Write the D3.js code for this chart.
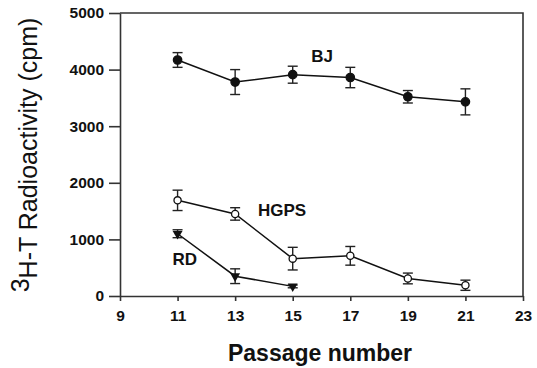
<!DOCTYPE html>
<html>
<head>
<meta charset="utf-8">
<script src="https://cdn.jsdelivr.net/npm/d3@7"></script>
<style>
  body { margin: 0; background: #fff; }
  svg { font-family: Arial, "Liberation Sans", sans-serif; }
</style>
</head>
<body>
<svg id="chart" width="537" height="368"></svg>
<script>
// passage numbers per series
const passagesBJ = [11, 13, 15, 17, 19, 21];
const passagesHGPS = [11, 13, 15, 17, 19, 21];
const passagesRD = [11, 13, 15];

// means and error (sd)
const valuesBJ = [4170, 3780, 3910, 3860, 3520, 3430];
const errorsBJ = [130, 220, 150, 180, 110, 230];
const valuesHGPS = [1690, 1450, 660, 710, 310, 190];
const errorsHGPS = [180, 110, 200, 165, 95, 90];
const valuesRD = [1100, 350, 170];
const errorsRD = [70, 130, 25];

const xTicks = [9, 11, 13, 15, 17, 19, 21, 23];
const yTicks = [0, 1000, 2000, 3000, 4000, 5000];

const margin = { left: 120, right: 14, top: 13, bottom: 72 };
const width = 537, height = 368;
const innerWidth = width - margin.left - margin.right;
const innerHeight = height - margin.top - margin.bottom;

const svg = d3.select('#chart');

const x = d3.scaleLinear().domain([9, 23]).range([0, innerWidth]);
const y = d3.scaleLinear().domain([0, 5000]).range([innerHeight, 0]);

const plot = svg.append('g')
    .attr('transform', `translate(${margin.left}, ${margin.top})`);

// box top + right
plot.append('path')
    .attr('d', `M0,0H${innerWidth}V${innerHeight}`)
    .attr('fill', 'none')
    .attr('stroke', '#333')
    .attr('stroke-width', 1.6);

const xAxis = d3.axisBottom(x).tickValues(xTicks).tickFormat(d3.format('d'))
    .tickSize(5).tickPadding(9).tickSizeOuter(0);
const yAxis = d3.axisLeft(y).tickValues(yTicks).tickFormat(d3.format('d'))
    .tickSize(11).tickPadding(5).tickSizeOuter(0);

const gx = plot.append('g')
    .attr('transform', `translate(0, ${innerHeight})`)
    .call(xAxis);
const gy = plot.append('g').call(yAxis);

[gx, gy].forEach((g) => {
    g.select('.domain').attr('stroke', '#333').attr('stroke-width', 1.6);
    g.selectAll('.tick line').attr('stroke', '#333').attr('stroke-width', 1.6);
    g.selectAll('.tick text')
        .attr('fill', '#111')
        .style('font-family', 'Arial, "Liberation Sans", sans-serif')
        .style('font-size', '15.5px')
        .style('font-weight', '700');
});

const series = [
    { name: 'BJ', xs: passagesBJ, ys: valuesBJ, es: errorsBJ, marker: 'filled' },
    { name: 'HGPS', xs: passagesHGPS, ys: valuesHGPS, es: errorsHGPS, marker: 'open' },
    { name: 'RD', xs: passagesRD, ys: valuesRD, es: errorsRD, marker: 'triangle' },
];

const line = d3.line().x((d) => x(d.x)).y((d) => y(d.y));

series.forEach((s) => {
    const pts = s.xs.map((v, i) => ({ x: v, y: s.ys[i], e: s.es[i] }));
    const g = plot.append('g');

    g.append('path')
        .datum(pts)
        .attr('d', line)
        .attr('fill', 'none')
        .attr('stroke', '#111')
        .attr('stroke-width', 1.5);

    // error bars
    const eb = g.selectAll('.eb').data(pts).enter().append('g');
    eb.append('line')
        .attr('x1', (d) => x(d.x)).attr('x2', (d) => x(d.x))
        .attr('y1', (d) => y(d.y + d.e)).attr('y2', (d) => y(d.y - d.e))
        .attr('stroke', '#222').attr('stroke-width', 1.4);
    [1, -1].forEach((sign) => {
        eb.append('line')
            .attr('x1', (d) => x(d.x) - 5).attr('x2', (d) => x(d.x) + 5)
            .attr('y1', (d) => y(d.y + sign * d.e)).attr('y2', (d) => y(d.y + sign * d.e))
            .attr('stroke', '#222').attr('stroke-width', 1.4);
    });

    if (s.marker === 'triangle') {
        g.selectAll('.m').data(pts).enter().append('path')
            .attr('d', d3.symbol(d3.symbolTriangle, 42))
            .attr('transform', (d) => `translate(${x(d.x)}, ${y(d.y)}) rotate(180)`)
            .attr('fill', '#111');
    } else {
        g.selectAll('.m').data(pts).enter().append('circle')
            .attr('cx', (d) => x(d.x))
            .attr('cy', (d) => y(d.y))
            .attr('r', s.marker === 'open' ? 3.6 : 4.2)
            .attr('fill', s.marker === 'open' ? '#fff' : '#111')
            .attr('stroke', '#111')
            .attr('stroke-width', 1.3);
    }
});

// series labels
const labels = [
    { text: 'BJ', px: 16.02, v: 4130 },
    { text: 'HGPS', px: 14.63, v: 1410 },
    { text: 'RD', px: 11.25, v: 540 },
];
plot.selectAll('.lbl').data(labels).enter().append('text')
    .attr('x', (d) => x(d.px))
    .attr('y', (d) => y(d.v))
    .attr('text-anchor', 'middle')
    .attr('fill', '#111')
    .style('font-size', '17px')
    .style('font-weight', 'bold')
    .text((d) => d.text);

// axis titles
svg.append('text')
    .attr('x', 320)
    .attr('y', 361)
    .attr('text-anchor', 'middle')
    .attr('fill', '#111')
    .style('font-size', '23px')
    .style('font-weight', 'bold')
    .text('Passage number');

const yt = svg.append('text')
    .attr('transform', 'translate(37, 155) rotate(-90)')
    .attr('text-anchor', 'middle')
    .attr('fill', '#111')
    .style('font-size', '25px');
yt.append('tspan').attr('dy', -8).text('3');
yt.append('tspan').attr('dy', 8).text('H-T Radioactivity (cpm)');
</script>
</body>
</html>
